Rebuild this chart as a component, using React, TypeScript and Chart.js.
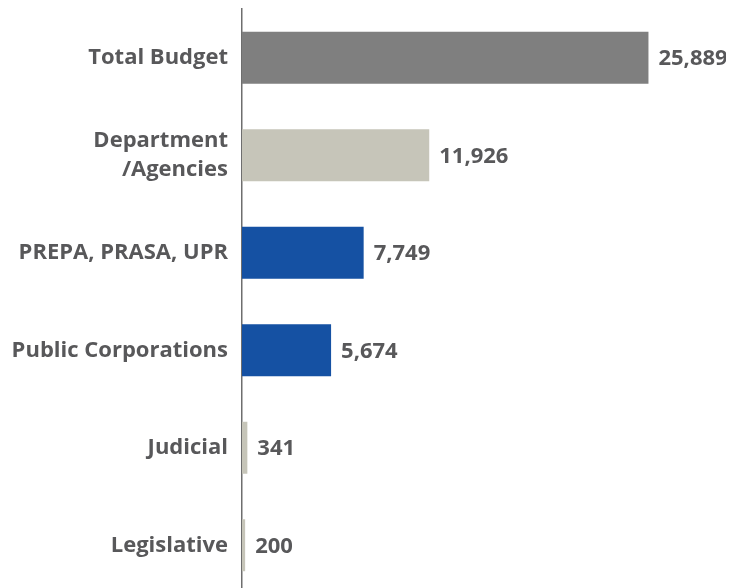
import React, { useEffect, useRef } from "react";
import { Chart, registerables } from "chart.js";

Chart.register(...registerables);

const categories: (string | string[])[] = [
  "Total Budget",
  ["Department", "/Agencies"],
  "PREPA, PRASA, UPR",
  "Public Corporations",
  "Judicial",
  "Legislative",
];
const values = [25889, 11926, 7749, 5674, 341, 200];
const barColors = ["#7f7f7f", "#c6c5b9", "#1551a3", "#1551a3", "#c6c5b9", "#c6c5b9"];

const FONT = "'Open Sans', sans-serif";
const TEXT = "#58585a";

const valueLabels = {
  id: "valueLabels",
  afterDatasetsDraw(chart: any) {
    const ctx = chart.ctx;
    const meta = chart.getDatasetMeta(0);
    ctx.save();
    ctx.font = `bold 22px ${FONT}`;
    ctx.fillStyle = TEXT;
    ctx.textAlign = "left";
    ctx.textBaseline = "middle";
    meta.data.forEach((bar: any, i: number) => {
      ctx.fillText(values[i].toLocaleString("en-US"), bar.x + 10, bar.y + 1);
    });
    ctx.restore();
  },
};

export default function App() {
  const ref = useRef<HTMLCanvasElement | null>(null);
  useEffect(() => {
    if (!ref.current) return;
    const chart = new Chart(ref.current, {
      type: "bar",
      data: {
        labels: categories,
        datasets: [
          {
            data: values,
            backgroundColor: barColors,
            borderWidth: 0,
            categoryPercentage: 1,
            barPercentage: 0.533,
          },
        ],
      },
      options: {
        indexAxis: "y",
        animation: false,
        responsive: false,
        maintainAspectRatio: false,
        layout: { padding: { top: 1, right: 21, bottom: 0, left: 0 } },
        plugins: { legend: { display: false }, tooltip: { enabled: false } },
        scales: {
          x: { display: false, min: 0, max: 30000 },
          y: {
            grid: { display: false, drawTicks: false },
            border: { display: true, color: "#6e6e6e", width: 1.5 },
            ticks: {
              padding: 14,
              color: TEXT,
              font: { family: FONT, size: 22, weight: "bold", lineHeight: 1.32 },
            },
            afterFit(scale: any) {
              scale.width = 234;
              scale.paddingTop = 0;
              scale.paddingBottom = 0;
            },
          },
        },
      },
      plugins: [valueLabels],
    });
    return () => chart.destroy();
  }, []);
  return <canvas ref={ref} width={726} height={586} style={{ display: "block" }} />;
}
